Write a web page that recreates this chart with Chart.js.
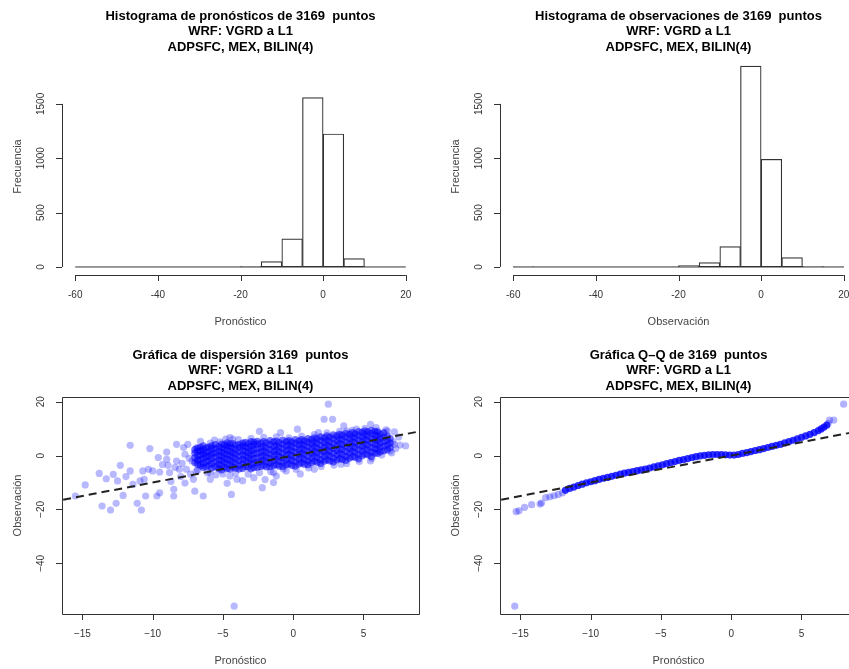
<!DOCTYPE html>
<html>
<head>
<meta charset="utf-8">
<script src="https://cdn.jsdelivr.net/npm/chart.js@4"></script>
<style>
  html, body { margin: 0; padding: 0; background: #fff; overflow: hidden; }
  #panel { display: grid; grid-template-columns: 438px 438px; grid-template-rows: 339px 339px; width: 876px; height: 678px; }
  canvas { display: block; }
</style>
</head>
<body>
<div id="panel">
  <canvas id="histPron" width="438" height="339"></canvas>
  <canvas id="histObs" width="438" height="339"></canvas>
  <canvas id="dispersion" width="438" height="339"></canvas>
  <canvas id="qq" width="438" height="339"></canvas>
</div>
<script>
// Histogramas: bins de 5 entre -60 y 20
const centrosBin = [-57.5, -52.5, -47.5, -42.5, -37.5, -32.5, -27.5, -22.5, -17.5, -12.5, -7.5, -2.5, 2.5, 7.5, 12.5, 17.5];
const cuentasPronostico = [0, 0, 0, 0, 0, 0, 0, 0, 4, 50, 258, 1558, 1223, 76, 0, 0];
const cuentasObservacion = [1, 0, 0, 0, 0, 0, 0, 0, 12, 40, 188, 1848, 990, 86, 3, 1];
const rangoHist = [-60, 20];
const ticksHistX = [-60, -40, -20, 0, 20];
const ticksHistY = [0, 500, 1000, 1500];
const ticksDispX = [-15, -10, -5, 0, 5];
const ticksDispY = [-40, -20, 0, 20];
const linea11 = [-20, 10];

// Dispersión: puntos sueltos [pronóstico, observación]
const dispersionNube = [
  [-15.5,-15.0],[-14.8,-10.9],[-13.8,-6.6],[-13.3,-8.6],[-13.6,-18.7],[-13.0,-20.2],[-12.6,-17.7],[-12.3,-3.6],
  [-12.1,-14.8],[-11.9,-7.8],[-11.6,3.8],[-11.6,-5.7],[-11.1,-17.7],[-10.8,-20.2],[-10.5,-15.0],[-10.2,2.6],
  [-10.6,-8.8],[-10.3,-5.1],[-9.7,-15.0],[-9.5,-13.8],[-9.6,-0.7],[-9.0,-1.4],[-9.0,1.3],[-8.5,-15.0],
  [-8.5,-12.5],[-8.3,4.2],[-7.8,3.0],[-7.5,4.2],[-7.7,0.5],[-7.1,-8.8],[-7.0,-13.2],[-6.4,-15.0],
  [-5.9,-8.8],[-5.4,-3.9],[-4.5,6.7],[-4.4,-14.4],[-4.7,-10.3],[-10.0,-5.7],[-9.5,-6.1],[-8.8,-6.3],
  [-8.1,-5.1],[-10.7,-5.7],[-10.9,-9.4],[-12.5,-9.4],[-12.8,-7.0],[-11.4,-10.7],[-7.6,-5.1],[-7.2,-2.0],
  [-6.6,-3.2],[-8.3,-2.0],[-6.2,-0.1],[-5.7,1.1],[-4.2,-55.9],
  [-8.9,-3.6],[-8.4,-4.4],[-7.9,-2.9],[-7.4,-1.0],[-6.9,-5.8],[-6.5,1.6],[-6.8,-1.9],[-8.0,-7.8],
  [-9.3,-3.3],[-7.3,-6.9],[-6.1,-6.4],[-5.5,-7.2],[-6.9,2.9],[-8.7,-9.6],[-7.7,-10.2],[-5.2,5.1],
  [-5.9,4.6],[-6.6,5.3],
  [2.5,19.1],[2.2,13.5],[2.8,13.5],[3.6,11.0],[1.8,8.5],[-2.2,-11.9],[-1.4,-10.0],[8.0,3.6],
  [7.2,4.2],[6.7,9.1],[6.0,9.1],[4.5,9.8],[-2.4,9.0],[-4.3,6.1],[-4.5,-7.6],[-4.0,-8.8],
  [-1.4,-6.3],[-0.5,-5.7],[1.5,-5.1],[3.4,-3.2],[5.5,-2.0],[6.9,1.7],[-0.9,8.5],[0.3,9.8],
  [3.8,9.1],[5.5,11.6],
  [-5.6,5.8],[-4.8,6.1],[-3.9,5.9],[-3.0,6.4],[-2.1,6.8],[-1.2,7.0],[-0.3,6.6],[0.6,7.2],
  [1.5,7.8],[2.4,8.4],[3.3,9.0],[4.2,9.4],[5.1,10.1],[5.9,10.4],[6.6,9.6],[7.2,8.8],
  [7.5,6.9],[7.1,5.1],[7.6,3.9],[7.3,2.6],
  [-6.8,-5.4],[-5.9,-6.3],[-5.0,-6.8],[-4.1,-6.5],[-3.2,-6.9],[-2.4,-6.3],[-1.6,-5.9],[-0.7,-5.0],
  [0.2,-5.1],[1.1,-4.6],[2.0,-4.0],[2.9,-3.5],[3.8,-2.9],[4.7,-2.2],[5.6,-1.0],[6.3,0.2],
  [7.0,1.0],[-2.8,-8.2],[-1.2,-7.6],[0.5,-6.8],[-3.6,-9.3],[-2.0,-8.9]
];

// Dispersión: núcleo denso, por columnas [pronóstico, [observaciones]]
const dispersionNucleo = [
  [-7.0, [-2.6, -0.8, 0.9, 2.2]],
  [-6.8, [-3.3, -1.6, 0.1, 1.6, 2.8]],
  [-6.6, [-3.8, -1.5, 0.2, 1.8, 3.1]],
  [-6.4, [-4.4, -2.8, -1.0, 0.7, 2.3, 3.6]],
  [-6.2, [-4.1, -2.3, -0.4, 1.2, 2.9]],
  [-6.0, [-3.7, -1.9, -0.2, 1.5, 3.2]],
  [-5.8, [-4.6, -2.9, -1.1, 0.6, 2.4, 3.6]],
  [-5.55, [-4.1, -2.3, -0.6, 1.0, 2.7, 4.1]],
  [-5.3, [-4.9, -3.2, -1.6, 0.1, 1.7, 3.3]],
  [-5.1, [-5.3, -3.6, -1.8, -0.2, 1.3, 2.9, 4.3]],
  [-4.9, [-4.4, -2.6, -0.9, 0.8, 2.5, 4.0]],
  [-4.7, [-4.9, -3.1, -1.3, 0.4, 2.0, 3.6, 4.7]],
  [-4.5, [-5.1, -3.4, -1.7, 0.0, 1.6, 3.2, 4.3]],
  [-4.3, [-4.2, -2.4, -0.6, 1.1, 2.7, 4.5]],
  [-4.1, [-4.7, -2.9, -1.2, 0.5, 2.2, 3.9]],
  [-3.85, [-5.0, -3.6, -1.9, -0.2, 1.5, 3.0, 4.2]],
  [-3.6, [-4.8, -3.1, -1.4, 0.3, 2.0, 3.6, 4.6]],
  [-3.4, [-4.0, -1.9, -0.1, 1.6, 3.3, 4.9]],
  [-3.2, [-4.3, -2.5, -0.7, 1.0, 2.8, 4.4]],
  [-3.0, [-4.9, -3.2, -1.5, 0.2, 1.9, 3.5, 5.2]],
  [-2.8, [-4.5, -2.8, -1.0, 0.7, 2.4, 4.1, 5.0]],
  [-2.55, [-4.3, -2.6, -0.8, 0.9, 2.6, 4.3, 5.3]],
  [-2.3, [-4.0, -2.2, -0.4, 1.3, 3.0, 4.6]],
  [-2.1, [-3.6, -1.7, 0.1, 1.8, 3.5, 5.2]],
  [-1.9, [-4.2, -2.4, -0.6, 1.1, 2.9, 4.7]],
  [-1.65, [-4.1, -2.8, -1.1, 0.6, 2.3, 4.1, 5.6]],
  [-1.4, [-3.7, -1.9, -0.1, 1.6, 3.3, 5.1]],
  [-1.2, [-3.4, -1.4, 0.4, 2.1, 3.8, 5.4]],
  [-1.0, [-3.9, -2.1, -0.3, 1.4, 3.1, 4.8]],
  [-0.75, [-4.0, -2.6, -0.8, 0.9, 2.6, 4.3, 5.8]],
  [-0.5, [-3.4, -1.6, 0.2, 1.9, 3.6, 5.2]],
  [-0.3, [-3.1, -1.2, 0.6, 2.3, 4.1, 5.6]],
  [-0.1, [-3.6, -1.8, 0.0, 1.7, 3.4, 5.0]],
  [0.15, [-3.9, -2.3, -0.5, 1.2, 2.9, 4.6, 5.9]],
  [0.4, [-3.1, -1.3, 0.5, 2.2, 3.9, 5.4]],
  [0.6, [-2.7, -0.8, 1.0, 2.7, 4.4, 5.9]],
  [0.8, [-3.2, -1.4, 0.4, 2.1, 3.8, 5.5]],
  [1.05, [-3.4, -2.0, -0.2, 1.6, 3.3, 5.0, 6.3]],
  [1.3, [-2.7, -0.9, 0.9, 2.6, 4.3, 5.9]],
  [1.5, [-2.1, -0.2, 1.6, 3.4, 5.1, 6.6]],
  [1.7, [-2.5, -0.7, 1.1, 2.8, 4.5, 6.2]],
  [1.95, [-2.9, -1.5, 0.3, 2.0, 3.8, 5.6, 7.0]],
  [2.2, [-2.1, -0.3, 1.5, 3.2, 4.9, 6.6]],
  [2.4, [-1.6, 0.3, 2.1, 3.9, 5.7, 7.3]],
  [2.6, [-2.0, -0.2, 1.6, 3.4, 5.1, 6.9]],
  [2.85, [-2.4, -0.9, 0.9, 2.7, 4.5, 6.3, 7.7]],
  [3.1, [-1.6, 0.2, 2.0, 3.8, 5.5, 7.3]],
  [3.3, [-1.1, 0.8, 2.6, 4.5, 6.3, 7.9]],
  [3.5, [-1.4, 0.4, 2.3, 4.1, 5.9, 7.6]],
  [3.75, [-1.8, -0.3, 1.5, 3.3, 5.1, 6.9, 8.3]],
  [4.0, [-0.9, 0.9, 2.7, 4.5, 6.2, 7.9]],
  [4.2, [-0.4, 1.6, 3.4, 5.2, 7.0, 8.5]],
  [4.4, [-0.6, 1.2, 3.0, 4.8, 6.5, 8.1]],
  [4.65, [-1.2, 0.4, 2.2, 4.0, 5.8, 7.5, 8.9]],
  [4.9, [-0.1, 1.7, 3.5, 5.2, 6.9, 8.6]],
  [5.1, [0.5, 2.5, 4.3, 6.1, 7.8, 9.2]],
  [5.3, [0.3, 2.1, 3.9, 5.6, 7.3, 8.8]],
  [5.55, [-0.3, 1.3, 3.0, 4.8, 6.5, 8.2, 9.4]],
  [5.8, [0.9, 2.6, 4.3, 6.0, 7.6, 9.0]],
  [6.0, [0.8, 2.2, 3.9, 5.6, 7.3, 8.7]],
  [6.2, [1.4, 3.1, 4.8, 6.4, 8.0]],
  [6.45, [1.8, 3.5, 5.2, 6.9, 8.5]],
  [6.7, [2.2, 3.9, 5.6, 7.2]],
  [6.9, [2.9, 4.6, 6.3]]
];

// Q-Q: cuantiles [pronóstico, observación]
const qqColas = [
  [-15.4,-55.9],[-15.3,-20.8],[-15.1,-20.5],[-14.7,-19.2],[-14.2,-18.2],[-13.6,-18.0],[-13.5,-17.6],
  [-13.2,-15.6],[-12.9,-15.3],[-12.6,-14.9],[-12.3,-14.4],[-12.0,-13.8],
  [6.9,12.0],[7.0,13.2],[7.3,13.2],[8.0,19.1]
];
const qqCuerpo = [
  [-11.8,-12.9],[-11.5,-12.2],[-11.2,-11.7],[-10.9,-11.1],[-10.6,-10.6],[-10.3,-10.1],[-10.0,-9.7],[-9.7,-9.3],
  [-9.4,-8.8],[-9.1,-8.4],[-8.8,-8.1],[-8.5,-7.7],[-8.2,-7.3],[-7.9,-6.9],[-7.6,-6.5],[-7.3,-6.2],
  [-7.0,-5.9],[-6.7,-5.6],[-6.4,-5.3],[-6.1,-5.0],[-5.8,-4.6],[-5.5,-4.2],[-5.2,-3.8],[-4.9,-3.4],
  [-4.6,-3.0],[-4.3,-2.6],[-4.0,-2.2],[-3.7,-1.8],[-3.4,-1.5],[-3.1,-1.1],[-2.8,-0.7],[-2.5,-0.4],
  [-2.2,-0.1],[-1.9,0.1],[-1.6,0.3],[-1.3,0.4],[-1.0,0.4],[-0.7,0.4],[-0.4,0.3],[-0.1,0.2],
  [0.2,0.2],[0.5,0.4],[0.8,0.8],[1.1,1.1],[1.4,1.5],[1.7,1.9],[2.0,2.2],[2.3,2.6],
  [2.6,3.0],[2.9,3.4],[3.2,3.8],[3.5,4.2],[3.8,4.7],[4.1,5.2],[4.4,5.7],[4.7,6.2],
  [5.0,6.8],[5.3,7.3],[5.6,7.9],[5.9,8.5],[6.2,9.3],[6.4,9.9],[6.6,10.6],[6.8,11.3]
];

const subtitulo = ['WRF: VGRD a L1', 'ADPSFC, MEX, BILIN(4)'];
const fuente = '"Liberation Sans", Arial, Helvetica, sans-serif';

// ejes al estilo R: lineas, marcas y etiquetas giradas
const ejesR = {
  id: 'ejesR',
  afterDatasetsDraw(chart, args, opts) {
    const ctx = chart.ctx, a = chart.chartArea;
    const x = chart.scales.x, y = chart.scales.y;
    const xt = x.ticks.map(t => t.value), yt = y.ticks.map(t => t.value);
    const tl = 6;
    ctx.save();
    ctx.strokeStyle = '#333';
    ctx.lineWidth = 1;
    ctx.beginPath();
    if (opts.caja) {
      ctx.rect(Math.round(a.left) + 0.5, Math.round(a.top) + 0.5, Math.round(a.right - a.left), Math.round(a.bottom - a.top));
    } else {
      ctx.moveTo(x.getPixelForValue(xt[0]), Math.round(a.bottom) + 0.5);
      ctx.lineTo(x.getPixelForValue(xt[xt.length - 1]), Math.round(a.bottom) + 0.5);
      ctx.moveTo(Math.round(a.left) + 0.5, y.getPixelForValue(yt[0]));
      ctx.lineTo(Math.round(a.left) + 0.5, y.getPixelForValue(yt[yt.length - 1]));
    }
    xt.forEach(v => {
      const px = Math.round(x.getPixelForValue(v)) + 0.5;
      ctx.moveTo(px, a.bottom);
      ctx.lineTo(px, a.bottom + tl);
    });
    yt.forEach(v => {
      const py = Math.round(y.getPixelForValue(v)) + 0.5;
      ctx.moveTo(a.left, py);
      ctx.lineTo(a.left - tl, py);
    });
    ctx.stroke();

    const etiqueta = v => opts.menos ? String(v).replace('-', '\u2212') : String(v);
    ctx.fillStyle = '#333';
    ctx.font = '10px ' + fuente;
    ctx.textAlign = 'center';
    ctx.textBaseline = 'middle';
    xt.forEach(v => ctx.fillText(etiqueta(v), x.getPixelForValue(v), a.bottom + 20));
    yt.forEach(v => {
      ctx.save();
      ctx.translate(a.left - 21, y.getPixelForValue(v));
      ctx.rotate(-Math.PI / 2);
      ctx.fillText(etiqueta(v), 0, 0);
      ctx.restore();
    });

    ctx.fillStyle = '#444';
    ctx.font = '11px ' + fuente;
    ctx.fillText(opts.xTitulo, (a.left + a.right) / 2, a.bottom + 47);
    ctx.save();
    ctx.translate(18, (a.top + a.bottom) / 2);
    ctx.rotate(-Math.PI / 2);
    ctx.fillText(opts.yTitulo, 0, 0);
    ctx.restore();
    ctx.restore();
  }
};

function escala(min, max, marcas, ancho, alto) {
  return {
    type: 'linear', min: min, max: max, offset: false,
    grid: { display: false }, border: { display: false },
    ticks: { display: false },
    afterBuildTicks: s => { s.ticks = marcas.map(v => ({ value: v })); },
    afterFit: s => {
      if (ancho !== null) s.width = ancho;
      if (alto !== null) s.height = alto;
    }
  };
}

function opcionesBase(titulo, ejes, xs, ys) {
  return {
    responsive: false,
    animation: false,
    layout: { padding: { left: 0, right: 19, top: 0, bottom: 0 } },
    scales: { x: xs, y: ys },
    plugins: {
      legend: { display: false },
      tooltip: { enabled: false },
      title: {
        display: true, fullSize: false, text: titulo, color: '#000',
        font: { family: fuente, size: 13, weight: 'bold', lineHeight: 1.19 },
        padding: { top: 8.3, bottom: 3.3 }
      },
      ejesR: ejes
    }
  };
}

function histograma(id, cuentas, titulo, xTitulo) {
  new Chart(document.getElementById(id), {
    type: 'bar',
    data: {
      datasets: [
        {
          type: 'line',
          data: rangoHist.map(v => ({ x: v, y: 0 })),
          borderColor: '#333', borderWidth: 1, pointRadius: 0, order: 0
        },
        {
          data: centrosBin.map((c, i) => ({ x: c, y: cuentas[i] })),
          backgroundColor: '#fff', borderColor: '#333', borderWidth: 1.2,
          borderSkipped: false, categoryPercentage: 1, barPercentage: 1, order: 1
        }
      ]
    },
    options: opcionesBase(
      [titulo, ...subtitulo],
      { caja: false, menos: false, xTitulo: xTitulo, yTitulo: 'Frecuencia' },
      escala(-63.2, 23.2, ticksHistX, null, 64),
      escala(-73.9, 1921.9, ticksHistY, 62, null)
    ),
    plugins: [ejesR]
  });
}

function dispersion(id, titulo, grupos) {
  const datasets = [{
    data: linea11.map(v => ({ x: v, y: v })),
    showLine: true, borderColor: '#222', borderWidth: 2, borderDash: [8, 5],
    pointRadius: 0, order: 0
  }];
  grupos.forEach((g, i) => datasets.push({
    data: g.puntos.map(p => ({ x: p[0], y: p[1] })),
    backgroundColor: g.color, borderWidth: 0, pointRadius: 3.6, order: 1 + i
  }));
  new Chart(document.getElementById(id), {
    type: 'scatter',
    data: { datasets: datasets },
    options: opcionesBase(
      [titulo, ...subtitulo],
      { caja: true, menos: true, xTitulo: 'Pronóstico', yTitulo: 'Observación' },
      escala(-16.45, 8.95, ticksDispX, null, 64),
      escala(-58.8, 21.75, ticksDispY, 62, null)
    ),
    plugins: [ejesR]
  });
}

histograma('histPron', cuentasPronostico, 'Histograma de pronósticos de 3169  puntos', 'Pronóstico');
histograma('histObs', cuentasObservacion, 'Histograma de observaciones de 3169  puntos', 'Observación');

const nucleo = dispersionNucleo.flatMap(c => c[1].map(v => [c[0], v]));
dispersion('dispersion', 'Gráfica de dispersión 3169  puntos', [
  { puntos: nucleo, color: 'rgba(0,0,255,0.55)' },
  { puntos: dispersionNube, color: 'rgba(0,0,255,0.28)' }
]);
dispersion('qq', 'Gráfica Q\u2013Q de 3169  puntos', [
  { puntos: qqCuerpo, color: 'rgba(0,0,255,0.8)' },
  { puntos: qqColas, color: 'rgba(0,0,255,0.3)' }
]);
</script>
</body>
</html>
